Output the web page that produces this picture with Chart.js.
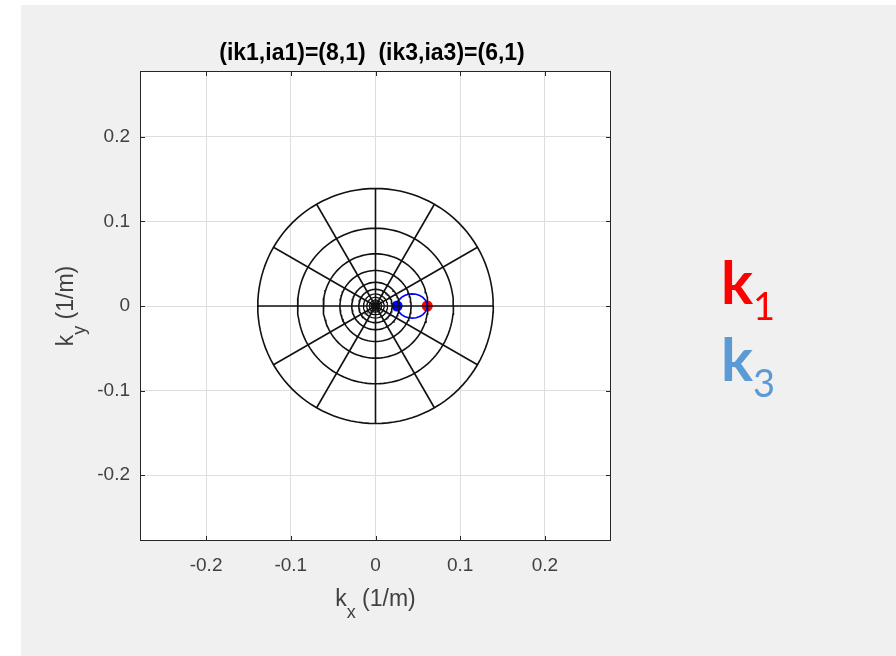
<!DOCTYPE html>
<html>
<head>
<meta charset="utf-8">
<script src="https://cdn.jsdelivr.net/npm/chart.js@4"></script>
<style>
  html, body { margin: 0; padding: 0; background: #ffffff; }
  body { width: 896px; height: 656px; position: relative; overflow: hidden; }
  #panel { position: absolute; left: 21px; top: 5px; right: 0; bottom: 0; background: #f0f0f0; }
  #chart { position: absolute; left: 0; top: 0; }
  .klabel { position: absolute; left: 721px; font-family: "Lato", "Open Sans", sans-serif; font-size: 60px; line-height: 60px; font-weight: 700; white-space: nowrap; }
  .klabel sub { font-size: 38px; font-weight: 400; vertical-align: baseline; position: relative; top: 16px; margin-left: 0; }
  #k1 { top: 251px; color: #ff0000; }
  #k3 { top: 328px; color: #5b9bd5; }
</style>
</head>
<body>
<div id="panel"></div>
<canvas id="chart" width="896" height="656"></canvas>
<div class="klabel" id="k1">k<sub>1</sub></div>
<div class="klabel" id="k3">k<sub>3</sub></div>
<script>
const FONT = "'Liberation Sans', Arial, Helvetica, sans-serif";

const titleText = "(ik1,ia1)=(8,1)  (ik3,ia3)=(6,1)";
const tickValues = [-0.2, -0.1, 0, 0.1, 0.2];
const axisLimit = 0.278;

// polar grid
const ringRadii = [0.139, 0.092, 0.0617, 0.042, 0.028, 0.0197, 0.0142, 0.0103, 0.0071, 0.005, 0.0035];
const spokeAngles = [0, 30, 60, 90, 120, 150];
const spokeRadius = 0.139;

// blue resonance curve (closed loop)
const curveKx = [0.0611, 0.0605, 0.0587, 0.0559, 0.0522, 0.0479, 0.0433, 0.0387, 0.0344, 0.0307, 0.0279, 0.0261, 0.0255,
                 0.0261, 0.0279, 0.0307, 0.0344, 0.0387, 0.0433, 0.0479, 0.0522, 0.0559, 0.0587, 0.0605, 0.0611];
const curveKy = [0, 0.0037, 0.0072, 0.0102, 0.0125, 0.0139, 0.0144, 0.0139, 0.0125, 0.0102, 0.0072, 0.0037, 0,
                 -0.0037, -0.0072, -0.0102, -0.0125, -0.0139, -0.0144, -0.0139, -0.0125, -0.0102, -0.0072, -0.0037, 0];

const k1 = { x: 0.0611, y: 0 };
const k3 = { x: 0.0255, y: 0 };

function circlePoints(r) {
  const pts = [];
  for (let i = 0; i <= 120; i++) {
    const a = (i / 120) * 2 * Math.PI;
    pts.push({ x: r * Math.cos(a), y: r * Math.sin(a) });
  }
  return pts;
}

const lineStyle = {
  showLine: true,
  pointRadius: 0,
  borderColor: "#111111",
  borderWidth: 1.6,
  tension: 0,
};

const datasets = [];
ringRadii.forEach((r, i) => {
  datasets.push({ ...lineStyle, borderWidth: i > 5 ? 1.2 : 1.6, data: circlePoints(r) });
});
spokeAngles.forEach((deg) => {
  const a = (deg * Math.PI) / 180;
  datasets.push({
    ...lineStyle,
    data: [
      { x: -spokeRadius * Math.cos(a), y: -spokeRadius * Math.sin(a) },
      { x: spokeRadius * Math.cos(a), y: spokeRadius * Math.sin(a) },
    ],
  });
});
datasets.push({
  ...lineStyle,
  borderColor: "#0000ff",
  borderWidth: 1.7,
  data: curveKx.map((x, i) => ({ x, y: curveKy[i] })),
});
datasets.push({
  showLine: false,
  data: [k1],
  pointRadius: 5.5,
  pointBackgroundColor: "#ff0000",
  pointBorderColor: "#ff0000",
  pointBorderWidth: 0,
});
datasets.push({
  showLine: false,
  data: [k3],
  pointRadius: 5.5,
  pointBackgroundColor: "#0000ff",
  pointBorderColor: "#0000ff",
  pointBorderWidth: 0,
});

function fmtTick(v) {
  return v === 0 ? "0" : Number(v).toFixed(1);
}

function labelWithSub(ctx, main, sub, rest, x, y) {
  // draws main + subscript + rest centred on x with baseline y
  ctx.font = `23px ${FONT}`;
  const w1 = ctx.measureText(main).width;
  const w3 = ctx.measureText(rest).width;
  ctx.font = `18px ${FONT}`;
  const w2 = ctx.measureText(sub).width;
  let cx = x - (w1 + w2 + w3) / 2;
  ctx.textAlign = "left";
  ctx.textBaseline = "alphabetic";
  ctx.font = `23px ${FONT}`;
  ctx.fillText(main, cx, y);
  cx += w1;
  ctx.font = `18px ${FONT}`;
  ctx.fillText(sub, cx, y + 12);
  cx += w2;
  ctx.font = `23px ${FONT}`;
  ctx.fillText(rest, cx, y);
}

const framePlugin = {
  id: "frame",
  beforeDraw(chart) {
    const { ctx, chartArea: a } = chart;
    ctx.save();
    ctx.fillStyle = "#ffffff";
    ctx.fillRect(a.left, a.top, a.right - a.left, a.bottom - a.top);
    ctx.restore();
  },
  afterDraw(chart) {
    const { ctx, chartArea: a, scales } = chart;
    ctx.save();
    ctx.strokeStyle = "#262626";
    ctx.lineWidth = 1;
    ctx.strokeRect(a.left + 0.5, a.top + 0.5, a.right - a.left - 1, a.bottom - a.top - 1);
    ctx.beginPath();
    tickValues.forEach((v) => {
      const px = Math.round(scales.x.getPixelForValue(v)) + 0.5;
      const py = Math.round(scales.y.getPixelForValue(v)) + 0.5;
      ctx.moveTo(px, a.bottom); ctx.lineTo(px, a.bottom - 5);
      ctx.moveTo(px, a.top); ctx.lineTo(px, a.top + 5);
      ctx.moveTo(a.left, py); ctx.lineTo(a.left + 5, py);
      ctx.moveTo(a.right, py); ctx.lineTo(a.right - 5, py);
    });
    ctx.stroke();

    ctx.fillStyle = "#000000";
    ctx.font = `bold 23px ${FONT}`;
    ctx.textAlign = "center";
    ctx.textBaseline = "alphabetic";
    ctx.fillText(titleText, 372, 60);

    ctx.fillStyle = "#404040";
    labelWithSub(ctx, "k", "x", " (1/m)", (a.left + a.right) / 2, 606);

    ctx.translate(73, (a.top + a.bottom) / 2);
    ctx.rotate(-Math.PI / 2);
    labelWithSub(ctx, "k", "y", " (1/m)", 0, 0);
    ctx.restore();
  },
};

function axisOptions(isX) {
  return {
    type: "linear",
    min: -axisLimit,
    max: axisLimit,
    afterFit: (scale) => {
      if (isX) scale.height = 115;
      else scale.width = 140;
    },
    afterBuildTicks: (scale) => {
      scale.ticks = tickValues.map((v) => ({ value: v }));
    },
    grid: { color: "#dedede", lineWidth: 1, drawTicks: false },
    border: { display: false },
    ticks: {
      autoSkip: false,
      maxRotation: 0,
      color: "#404040",
      padding: isX ? 13 : 10,
      font: { family: FONT, size: 19 },
      callback: (v) => fmtTick(v),
    },
  };
}

new Chart(document.getElementById("chart"), {
  type: "scatter",
  data: { datasets },
  options: {
    responsive: false,
    animation: false,
    layout: { padding: { left: 0, top: 71, right: 285, bottom: 0 } },
    plugins: { legend: { display: false }, tooltip: { enabled: false } },
    scales: { x: axisOptions(true), y: axisOptions(false) },
  },
  plugins: [framePlugin],
});
</script>
</body>
</html>
